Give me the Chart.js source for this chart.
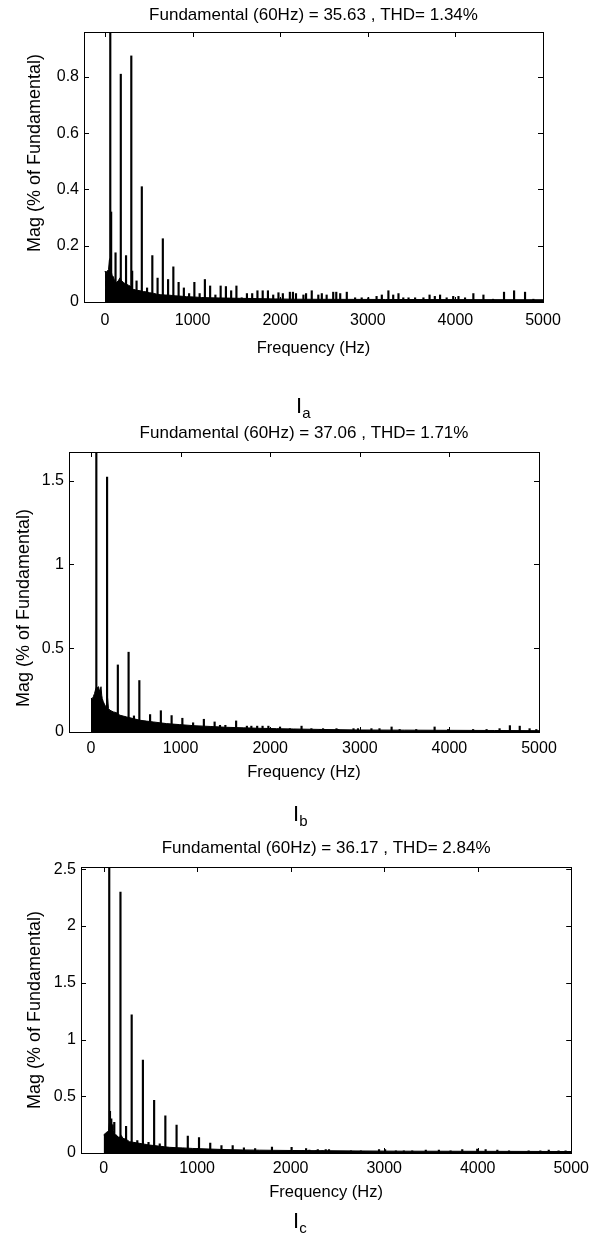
<!DOCTYPE html>
<html>
<head>
<meta charset="utf-8">
<script src="https://cdn.jsdelivr.net/npm/chart.js@4.4.0/dist/chart.umd.min.js"></script>
<style>
  body { margin: 0; background: #fff; }
  #page { position: relative; width: 595px; height: 1235px; font-family: "Liberation Sans", Arial, sans-serif; }
  .panel { position: absolute; left: 0; }
  .caption { position: absolute; font-size: 22px; line-height: 1; color: #000; }
  .caption sub { font-size: 15px; }
</style>
</head>
<body>
<div id="page">
  <div class="panel" id="panelA"><canvas id="chartA"></canvas></div>
  <div class="panel" id="panelB"><canvas id="chartB"></canvas></div>
  <div class="panel" id="panelC"><canvas id="chartC"></canvas></div>
  <div class="caption" style="left:296px;top:395px">I<sub>a</sub></div>
  <div class="caption" style="left:293px;top:803px">I<sub>b</sub></div>
  <div class="caption" style="left:293px;top:1210px">I<sub>c</sub></div>
</div>
<script>
// ---- datos ----
const freqTicks = [0, 1000, 2000, 3000, 4000, 5000];

// Ia
const iaTicks = [0, 0.2, 0.4, 0.6, 0.8];
const iaSpikeHz  = [60, 70, 120, 180, 240, 300, 310, 360, 420, 480, 540, 600, 660, 720, 780, 840, 900, 960, 1020, 1080, 1140, 1200, 1260, 1320, 1380, 1440, 1500, 1560, 1620, 1680, 1740, 1800, 1860, 1920, 1980, 2030, 2110, 2145, 2180, 2265, 2295, 2360, 2435, 2475, 2530, 2605, 2640, 2685, 2760, 2855, 2930, 3005, 3100, 3160, 3235, 3290, 3350, 3405, 3465, 3540, 3635, 3705, 3765, 3825, 3900, 3975, 4035, 4110, 4205, 4320, 4430, 4555, 4670, 4795, 4890];
const iaSpikeMag = [100, 0.32, 0.175, 0.81, 0.165, 0.875, 0.11, 0.075, 0.41, 0.05, 0.165, 0.085, 0.225, 0.08, 0.125, 0.07, 0.05, 0.03, 0.07, 0.03, 0.08, 0.057, 0.025, 0.057, 0.055, 0.04, 0.057, 0.015, 0.03, 0.03, 0.04, 0.04, 0.04, 0.025, 0.033, 0.03, 0.035, 0.035, 0.03, 0.025, 0.03, 0.04, 0.025, 0.03, 0.025, 0.035, 0.035, 0.03, 0.035, 0.015, 0.015, 0.015, 0.02, 0.025, 0.04, 0.025, 0.03, 0.015, 0.015, 0.015, 0.015, 0.025, 0.02, 0.025, 0.015, 0.02, 0.02, 0.015, 0.03, 0.025, 0.01, 0.035, 0.04, 0.035, 0.01];
const iaFloorHz  = [0, 10, 25, 40, 50, 58, 65, 80, 95, 110, 133, 150, 171, 190, 209, 230, 247, 265, 285, 305, 323, 360, 400, 440, 476, 510, 552, 590, 628, 690, 742, 800, 856, 930, 1008, 1100, 1199, 1300, 1389, 1550, 1769, 1950, 2150, 2600, 3200, 4000, 5000];
const iaFloorMag = [0.11, 0.1, 0.11, 0.115, 0.15, 0.155, 0.12, 0.095, 0.09, 0.075, 0.07, 0.075, 0.086, 0.075, 0.07, 0.065, 0.063, 0.06, 0.057, 0.05, 0.045, 0.042, 0.04, 0.037, 0.036, 0.033, 0.031, 0.028, 0.026, 0.025, 0.024, 0.022, 0.021, 0.019, 0.018, 0.016, 0.015, 0.0145, 0.014, 0.013, 0.012, 0.011, 0.01, 0.0095, 0.009, 0.0085, 0.008];

// Ib
const ibTicks = [0, 0.5, 1, 1.5];
const ibSpikeHz  = [60, 180, 300, 420, 480, 540, 660, 780, 900, 1020, 1140, 1260, 1380, 1440, 1500, 1620, 1740, 1790, 1855, 1915, 1980, 2110, 2220, 2350, 2460, 2555, 2590, 2740, 2760, 2930, 2980, 3130, 3220, 3355, 3445, 3630, 3835, 3985, 4265, 4415, 4560, 4675, 4785, 4895, 4970];
const ibSpikeMag = [100, 1.52, 0.40, 0.476, 0.096, 0.307, 0.104, 0.127, 0.098, 0.082, 0.055, 0.076, 0.06, 0.04, 0.04, 0.066, 0.035, 0.035, 0.035, 0.035, 0.035, 0.03, 0.02, 0.035, 0.02, 0.015, 0.02, 0.02, 0.015, 0.02, 0.02, 0.02, 0.02, 0.03, 0.015, 0.015, 0.03, 0.015, 0.015, 0.015, 0.02, 0.038, 0.035, 0.02, 0.015];
const ibFloorHz  = [0, 15, 26, 40, 50, 63, 75, 85, 93, 100, 112, 120, 126, 138, 156, 170, 186, 195, 212, 249, 286, 323, 360, 398, 435, 472, 546, 620, 695, 770, 844, 990, 1141, 1330, 1513, 1700, 1885, 2070, 2257, 2600, 3000, 3500, 4000, 4500, 5000];
const ibFloorMag = [0.2, 0.2, 0.21, 0.23, 0.25, 0.27, 0.265, 0.27, 0.25, 0.24, 0.27, 0.22, 0.2, 0.18, 0.16, 0.15, 0.2, 0.14, 0.13, 0.12, 0.115, 0.1, 0.095, 0.09, 0.085, 0.08, 0.07, 0.065, 0.06, 0.055, 0.05, 0.044, 0.038, 0.033, 0.028, 0.025, 0.022, 0.02, 0.018, 0.015, 0.012, 0.011, 0.01, 0.009, 0.008];

// Ic
const icTicks = [0, 0.5, 1, 1.5, 2, 2.5];
const icSpikeHz  = [60, 68, 82, 114, 180, 240, 300, 360, 420, 480, 540, 600, 660, 780, 900, 1020, 1140, 1260, 1380, 1500, 1620, 1800, 2010, 2130, 2165, 2200, 2270, 2290, 2340, 2375, 2410, 2645, 2750, 2945, 3010, 3125, 3210, 3300, 3445, 3585, 3710, 3835, 3995, 4085, 4210, 4335, 4545, 4670, 4760, 4865, 4940];
const icSpikeMag = [100, 0.367, 0.3, 0.27, 2.30, 0.235, 1.217, 0.11, 0.818, 0.094, 0.463, 0.08, 0.328, 0.246, 0.15, 0.135, 0.088, 0.065, 0.065, 0.045, 0.04, 0.053, 0.05, 0.02, 0.04, 0.025, 0.02, 0.03, 0.02, 0.03, 0.03, 0.02, 0.02, 0.03, 0.03, 0.02, 0.02, 0.02, 0.025, 0.025, 0.02, 0.03, 0.035, 0.03, 0.025, 0.02, 0.02, 0.02, 0.025, 0.02, 0.02];
const icFloorHz  = [0, 15, 28, 46, 55, 66, 75, 90, 100, 117, 135, 153, 170, 189, 205, 242, 277, 310, 349, 385, 420, 455, 491, 545, 598, 650, 704, 775, 847, 953, 1131, 1309, 1487, 1665, 2021, 2376, 2732, 3200, 4000, 5000];
const icFloorMag = [0.16, 0.17, 0.18, 0.19, 0.2, 0.3, 0.28, 0.25, 0.2, 0.16, 0.16, 0.14, 0.14, 0.155, 0.13, 0.12, 0.1, 0.095, 0.09, 0.085, 0.08, 0.075, 0.07, 0.065, 0.06, 0.055, 0.05, 0.047, 0.045, 0.04, 0.035, 0.03, 0.027, 0.025, 0.022, 0.02, 0.018, 0.016, 0.015, 0.013];

const FONT = '"Liberation Sans", Arial, sans-serif';

// Caja estilo MATLAB: marco, marcas hacia dentro y etiqueta del eje Y
const matlabAxes = {
    id: 'matlabAxes',
    afterDatasetsDraw(chart, args, opts) {
        const { ctx, chartArea: a, scales: { x, y } } = chart;
        ctx.save();
        ctx.strokeStyle = '#000';
        ctx.lineWidth = 1;
        ctx.beginPath();
        x.ticks.forEach(t => {
            const px = Math.round(x.getPixelForValue(t.value)) + 0.5;
            ctx.moveTo(px, a.top); ctx.lineTo(px, a.top + opts.tick);
            ctx.moveTo(px, a.bottom); ctx.lineTo(px, a.bottom - opts.tick);
        });
        y.ticks.forEach(t => {
            const py = Math.round(y.getPixelForValue(t.value)) + 0.5;
            ctx.moveTo(a.left, py); ctx.lineTo(a.left + opts.tick, py);
            ctx.moveTo(a.right, py); ctx.lineTo(a.right - opts.tick, py);
        });
        ctx.stroke();
        ctx.strokeRect(Math.round(a.left) + 0.5, Math.round(a.top) + 0.5,
                       Math.round(a.right - a.left), Math.round(a.bottom - a.top));
        ctx.translate(opts.labelX, opts.labelY);
        ctx.rotate(-Math.PI / 2);
        ctx.fillStyle = '#000';
        ctx.font = opts.labelSize + 'px ' + FONT;
        ctx.textAlign = 'center';
        ctx.textBaseline = 'middle';
        ctx.fillText(opts.label, 0, 0);
        ctx.restore();
    }
};

function makePanel(id, p) {
    const panel = document.getElementById('panel' + id);
    panel.style.top = p.top + 'px';
    panel.style.width = '595px';
    panel.style.height = p.height + 'px';
    const canvas = document.getElementById('chart' + id);
    canvas.width = 595;
    canvas.height = p.height;

    const box = { l: p.box[0], r: p.box[1], t: p.box[2] - p.top, b: p.box[3] - p.top };
    const titleLh = p.titleSize * 1.2;
    const titlePadTop = (p.titleY - p.top) - titleLh / 2;
    const xTitleLh = p.xTitleSize * 1.2;
    const xAxisH = (p.xTitleY - p.top - box.b) + xTitleLh / 2 + 2;
    const yAxisW = 50;

    return new Chart(canvas, {
        type: 'bar',
        data: {
            datasets: [
                {
                    type: 'bar',
                    data: p.spikeHz.map((f, i) => ({ x: f, y: p.spikeMag[i] })),
                    backgroundColor: '#000',
                    barThickness: 1.5,
                    grouped: false,
                    order: 1
                },
                {
                    type: 'line',
                    data: p.floorHz.map((f, i) => ({ x: f, y: p.floorMag[i] })),
                    borderColor: '#000',
                    backgroundColor: '#000',
                    borderWidth: 1,
                    pointRadius: 0,
                    tension: 0,
                    fill: 'origin',
                    order: 2
                }
            ]
        },
        options: {
            responsive: false,
            animation: false,
            events: [],
            layout: {
                padding: { left: box.l - yAxisW, right: 595 - box.r, top: 0, bottom: p.height - box.b - xAxisH }
            },
            scales: {
                x: {
                    type: 'linear',
                    min: p.xMin,
                    max: 5000,
                    offset: false,
                    afterBuildTicks: s => { s.ticks = freqTicks.map(v => ({ value: v })); },
                    afterFit: s => { s.height = xAxisH; },
                    grid: { display: false, drawTicks: false, offset: false },
                    border: { display: false },
                    ticks: {
                        autoSkip: false, maxRotation: 0, color: '#000', padding: p.xTickPad,
                        font: { family: FONT, size: p.tickSize },
                        callback: v => String(v)
                    },
                    title: {
                        display: true, text: 'Frequency (Hz)', color: '#000',
                        font: { family: FONT, size: p.xTitleSize },
                        padding: { top: 0, bottom: 2 }
                    }
                },
                y: {
                    min: 0,
                    max: p.yMax,
                    afterBuildTicks: s => { s.ticks = p.yTicks.map(v => ({ value: v })); },
                    afterFit: s => { s.width = yAxisW; },
                    grid: { display: false, drawTicks: false },
                    border: { display: false },
                    ticks: {
                        color: '#000', padding: 5,
                        font: { family: FONT, size: p.tickSize },
                        callback: v => String(v)
                    }
                }
            },
            plugins: {
                legend: { display: false },
                tooltip: { enabled: false },
                title: {
                    display: true, text: p.title, fullSize: false, color: '#000',
                    font: { family: FONT, size: p.titleSize, weight: 'normal' },
                    padding: { top: titlePadTop, bottom: box.t - titlePadTop - titleLh }
                },
                matlabAxes: {
                    tick: 5, label: 'Mag (% of Fundamental)', labelSize: p.yLabelSize,
                    labelX: p.yLabelX, labelY: p.yLabelY - p.top
                }
            }
        },
        plugins: [matlabAxes]
    });
}

makePanel('A', {
    top: 0, height: 375, box: [84, 543, 32, 302], xMin: -240, yMax: 0.96, yTicks: iaTicks,
    title: 'Fundamental (60Hz) = 35.63 , THD= 1.34%', titleY: 15, titleSize: 17,
    tickSize: 16, xTickPad: 9, xTitleY: 348, xTitleSize: 16.5,
    yLabelX: 35, yLabelY: 153, yLabelSize: 18,
    spikeHz: iaSpikeHz, spikeMag: iaSpikeMag, floorHz: iaFloorHz, floorMag: iaFloorMag
});

makePanel('B', {
    top: 410, height: 380, box: [69, 539, 452, 732], xMin: -245, yMax: 1.67, yTicks: ibTicks,
    title: 'Fundamental (60Hz) = 37.06 , THD= 1.71%', titleY: 433, titleSize: 17,
    tickSize: 16, xTickPad: 7, xTitleY: 772, xTitleSize: 16.5,
    yLabelX: 24, yLabelY: 608, yLabelSize: 18,
    spikeHz: ibSpikeHz, spikeMag: ibSpikeMag, floorHz: ibFloorHz, floorMag: ibFloorMag
});

makePanel('C', {
    top: 825, height: 380, box: [81, 573, 867, 1153], xMin: -242, yMax: 2.52, yTicks: icTicks,
    title: 'Fundamental (60Hz) = 36.17 , THD= 2.84%', titleY: 848, titleSize: 17,
    tickSize: 16, xTickPad: 6, xTitleY: 1192, xTitleSize: 16.5,
    yLabelX: 35, yLabelY: 1010, yLabelSize: 18,
    spikeHz: icSpikeHz, spikeMag: icSpikeMag, floorHz: icFloorHz, floorMag: icFloorMag
});
</script>
</body>
</html>
